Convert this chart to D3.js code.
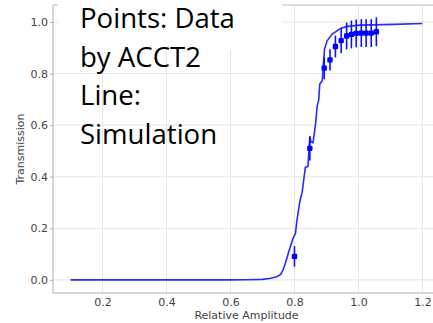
<!DOCTYPE html>
<html>
<head>
<meta charset="utf-8">
<script src="https://cdn.jsdelivr.net/npm/d3@7"></script>
<style>
  body { margin: 0; background: #fff; }
  svg { display: block; }
</style>
</head>
<body>
<div id="chart"></div>
<script>
// simulation curve
const simX = [0.1, 0.3, 0.5, 0.6, 0.65, 0.7, 0.725, 0.745, 0.756, 0.765, 0.772, 0.78, 0.7875, 0.796, 0.803, 0.808,
  0.817, 0.824, 0.834, 0.842, 0.848, 0.852, 0.858, 0.866, 0.871, 0.876, 0.879, 0.887, 0.890, 0.894, 0.902,
  0.918, 0.944, 0.965, 1.006, 1.11, 1.2];
const simY = [0, 0, 0, 0, 0.0005, 0.002, 0.006, 0.012, 0.02, 0.04, 0.066, 0.1, 0.13, 0.163, 0.18, 0.233,
  0.305, 0.34, 0.436, 0.44, 0.556, 0.534, 0.532, 0.605, 0.674, 0.70, 0.759, 0.772, 0.83, 0.895, 0.927,
  0.953, 0.975, 0.983, 0.988, 0.991, 0.994];

// measured points (ACCT2)
const dataX = [0.80, 0.848, 0.893, 0.911, 0.928, 0.946, 0.963, 0.978, 0.993, 1.009, 1.024, 1.040, 1.056];
const dataY = [0.091, 0.51, 0.821, 0.853, 0.905, 0.928, 0.946, 0.952, 0.956, 0.957, 0.957, 0.957, 0.962];
const dataErr = [0.04, 0.047, 0.043, 0.041, 0.042, 0.049, 0.052, 0.054, 0.054, 0.054, 0.054, 0.054, 0.056];

const xTicks = [0.2, 0.4, 0.6, 0.8, 1.0, 1.2];
const yTicks = [0.0, 0.2, 0.4, 0.6, 0.8, 1.0];
const noteLines = ['Points: Data', 'by ACCT2', 'Line:', 'Simulation'];

const W = 433, H = 323;
const mLeft = 53, mRight = 440, mTop = 5, mBottom = 293;

const x = d3.scaleLinear().domain([0.045, 1.255]).range([mLeft, mRight]);
const y = d3.scaleLinear().domain([-0.051, 1.066]).range([mBottom, mTop]);

const svg = d3.select('#chart').append('svg')
  .attr('width', W)
  .attr('height', H);

// grid
svg.append('g')
  .selectAll('line')
  .data(xTicks)
  .join('line')
    .attr('x1', d => x(d)).attr('x2', d => x(d))
    .attr('y1', mTop).attr('y2', mBottom)
    .attr('stroke', '#e6e6e6').attr('stroke-width', 1);

svg.append('g')
  .selectAll('line')
  .data(yTicks)
  .join('line')
    .attr('x1', mLeft).attr('x2', mRight)
    .attr('y1', d => y(d)).attr('y2', d => y(d))
    .attr('stroke', '#e6e6e6').attr('stroke-width', 1);

// top frame line
svg.append('line')
  .attr('x1', mLeft).attr('x2', W)
  .attr('y1', mTop).attr('y2', mTop)
  .attr('stroke', '#dcdcdc').attr('stroke-width', 2);

// axes
const yAxis = svg.append('g')
  .attr('transform', `translate(${mLeft},0)`)
  .call(d3.axisLeft(y).tickValues(yTicks).tickFormat(d3.format('.1f')).tickSize(3).tickPadding(2));
const xAxis = svg.append('g')
  .attr('transform', `translate(0,${mBottom})`)
  .call(d3.axisBottom(x).tickValues(xTicks).tickFormat(d3.format('.1f')).tickSize(0).tickPadding(5));

[yAxis, xAxis].forEach(a => {
  a.select('.domain').attr('stroke', '#b0b0b0');
  a.selectAll('.tick line').attr('stroke', '#b0b0b0');
  a.selectAll('.tick text')
    .attr('font-family', 'DejaVu Sans')
    .attr('font-size', 11)
    .attr('fill', '#444');
});
yAxis.select('.domain').attr('d', `M0,${mTop}V${mBottom}`);
xAxis.select('.domain').attr('d', `M${mLeft},0H${mRight}`);

svg.append('text')
  .attr('x', (mLeft + mRight) / 2)
  .attr('y', 319)
  .attr('text-anchor', 'middle')
  .attr('font-family', 'DejaVu Sans')
  .attr('font-size', 11)
  .attr('fill', '#444')
  .text('Relative Amplitude');

svg.append('text')
  .attr('transform', `translate(24,${(mTop + mBottom) / 2}) rotate(-90)`)
  .attr('text-anchor', 'middle')
  .attr('font-family', 'DejaVu Sans')
  .attr('font-size', 11)
  .attr('fill', '#444')
  .text('Transmission');

// white text box pasted over the plot
svg.append('rect').attr('x', 58).attr('y', 0).attr('width', 224).attr('height', 50).attr('fill', '#fff');
svg.append('rect').attr('x', 58).attr('y', 50).attr('width', 82).attr('height', 23).attr('fill', '#fff');

// simulation line
const sim = simX.map((v, i) => [v, simY[i]]);
svg.append('path')
  .datum(sim)
  .attr('fill', 'none')
  .attr('stroke', '#2a2aff')
  .attr('stroke-width', 1.6)
  .attr('d', d3.line().x(d => x(d[0])).y(d => y(d[1])));

// data points with error bars
const pts = dataX.map((v, i) => ({ x: v, y: dataY[i], e: dataErr[i] }));
svg.append('g')
  .selectAll('line')
  .data(pts)
  .join('line')
    .attr('x1', d => x(d.x)).attr('x2', d => x(d.x))
    .attr('y1', d => y(d.y + d.e)).attr('y2', d => y(d.y - d.e))
    .attr('stroke', '#1010ff').attr('stroke-width', 1.6);

svg.append('g')
  .selectAll('rect')
  .data(pts)
  .join('rect')
    .attr('x', d => x(d.x) - 2.7).attr('y', d => y(d.y) - 2.7)
    .attr('width', 5.4).attr('height', 5.4)
    .attr('rx', 1.2)
    .attr('fill', '#0000ff');

// annotation text
const note = svg.append('g')
  .attr('font-family', 'Open Sans, Lato, sans-serif')
  .attr('fill', '#000');
const nt = note.selectAll('text')
  .data(noteLines)
  .join('text')
    .attr('x', 80)
    .attr('y', (d, i) => 28 + i * 38.6)
    .attr('font-size', 26)
    .text(d => d);
const w0 = nt.nodes()[0].getComputedTextLength();
nt.attr('font-size', 26 * 155 / w0);
</script>
</body>
</html>
